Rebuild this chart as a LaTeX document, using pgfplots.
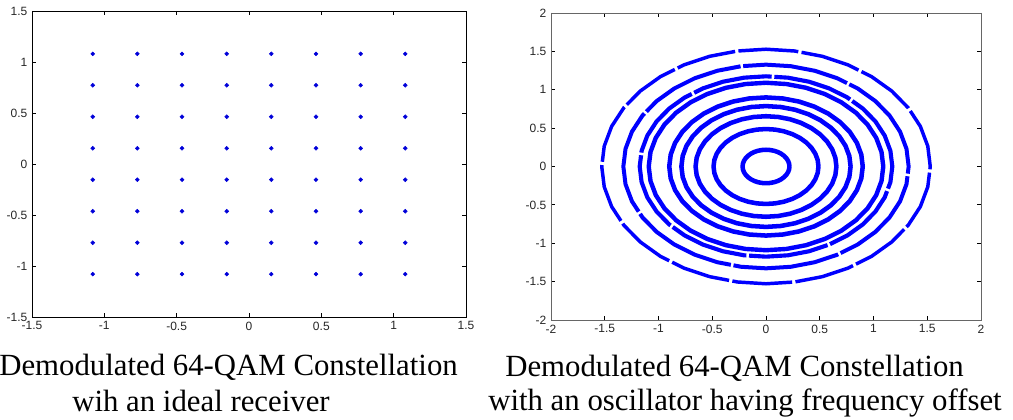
\documentclass[border=0pt]{standalone}
\usepackage{fontspec}
\setmainfont{Liberation Serif}
\newfontfamily\ticksf{Liberation Sans}
\usepackage{pgfplots}
\usepackage{pgfplotstable}
\pgfplotsset{compat=1.18}

% ring radii (angle in degrees, radius of each ring)
\pgfplotstableread{
a   r1    r2    r3    r4    r5    r6    r7    r8    r9
0   0.218 0.488 0.655 0.787 0.900 1.091 1.175 1.327 1.528
10  0.218 0.488 0.655 0.787 0.900 1.091 1.175 1.327 1.528
20  0.218 0.488 0.655 0.787 0.900 1.091 1.175 1.327 1.528
30  0.218 0.488 0.655 0.787 0.900 1.091 1.175 1.327 1.528
40  0.218 0.488 0.655 0.787 0.900 1.091 1.175 1.327 1.528
50  0.218 0.488 0.655 0.787 0.900 1.091 1.175 1.327 1.528
60  0.218 0.488 0.655 0.787 0.900 1.091 1.175 1.327 1.528
70  0.218 0.488 0.655 0.787 0.900 1.091 1.175 1.327 1.528
80  0.218 0.488 0.655 0.787 0.900 1.091 1.175 1.327 1.528
90  0.218 0.488 0.655 0.787 0.900 1.091 1.175 1.327 1.528
100 0.218 0.488 0.655 0.787 0.900 1.091 1.175 1.327 1.528
110 0.218 0.488 0.655 0.787 0.900 1.091 1.175 1.327 1.528
120 0.218 0.488 0.655 0.787 0.900 1.091 1.175 1.327 1.528
130 0.218 0.488 0.655 0.787 0.900 1.091 1.175 1.327 1.528
140 0.218 0.488 0.655 0.787 0.900 1.091 1.175 1.327 1.528
150 0.218 0.488 0.655 0.787 0.900 1.091 1.175 1.327 1.528
160 0.218 0.488 0.655 0.787 0.900 1.091 1.175 1.327 1.528
170 0.218 0.488 0.655 0.787 0.900 1.091 1.175 1.327 1.528
180 0.218 0.488 0.655 0.787 0.900 1.091 1.175 1.327 1.528
190 0.218 0.488 0.655 0.787 0.900 1.091 1.175 1.327 1.528
200 0.218 0.488 0.655 0.787 0.900 1.091 1.175 1.327 1.528
210 0.218 0.488 0.655 0.787 0.900 1.091 1.175 1.327 1.528
220 0.218 0.488 0.655 0.787 0.900 1.091 1.175 1.327 1.528
230 0.218 0.488 0.655 0.787 0.900 1.091 1.175 1.327 1.528
240 0.218 0.488 0.655 0.787 0.900 1.091 1.175 1.327 1.528
250 0.218 0.488 0.655 0.787 0.900 1.091 1.175 1.327 1.528
260 0.218 0.488 0.655 0.787 0.900 1.091 1.175 1.327 1.528
270 0.218 0.488 0.655 0.787 0.900 1.091 1.175 1.327 1.528
280 0.218 0.488 0.655 0.787 0.900 1.091 1.175 1.327 1.528
290 0.218 0.488 0.655 0.787 0.900 1.091 1.175 1.327 1.528
300 0.218 0.488 0.655 0.787 0.900 1.091 1.175 1.327 1.528
310 0.218 0.488 0.655 0.787 0.900 1.091 1.175 1.327 1.528
320 0.218 0.488 0.655 0.787 0.900 1.091 1.175 1.327 1.528
330 0.218 0.488 0.655 0.787 0.900 1.091 1.175 1.327 1.528
340 0.218 0.488 0.655 0.787 0.900 1.091 1.175 1.327 1.528
350 0.218 0.488 0.655 0.787 0.900 1.091 1.175 1.327 1.528
360 0.218 0.488 0.655 0.787 0.900 1.091 1.175 1.327 1.528
}\ringdata

\begin{document}
\begin{tikzpicture}
\useasboundingbox (0pt,0pt) rectangle (759.75pt,315pt);
\pgfplotsset{mystyle/.style={
  scale only axis,
  tick align=inside, major tick length=3pt,
  /pgf/number format/assume math mode=true,
  tick label style={font=\ticksf\fontsize{9}{10}\selectfont, text=black!85},
  axis line style={line width=0.6pt},
  major tick style={line width=0.6pt, black},
}}
\begin{axis}[mystyle, anchor=south west, at={(24pt,77.25pt)}, width=325.5pt, height=229.5pt,
  xmin=-1.5, xmax=1.5, ymin=-1.5, ymax=1.5,
  xtick={-1.5,-1,-0.5,0,0.5,1,1.5}, ytick={-1.5,-1,-0.5,0,0.5,1,1.5}]
\addplot[only marks, mark=*, mark size=1.45pt, blue!85!black] coordinates {
(-1.080,1.080) (-0.772,1.080) (-0.463,1.080) (-0.154,1.080) (0.154,1.080) (0.463,1.080) (0.772,1.080) (1.080,1.080)
(-1.080,0.772) (-0.772,0.772) (-0.463,0.772) (-0.154,0.772) (0.154,0.772) (0.463,0.772) (0.772,0.772) (1.080,0.772)
(-1.080,0.463) (-0.772,0.463) (-0.463,0.463) (-0.154,0.463) (0.154,0.463) (0.463,0.463) (0.772,0.463) (1.080,0.463)
(-1.080,0.154) (-0.772,0.154) (-0.463,0.154) (-0.154,0.154) (0.154,0.154) (0.463,0.154) (0.772,0.154) (1.080,0.154)
(-1.080,-0.154) (-0.772,-0.154) (-0.463,-0.154) (-0.154,-0.154) (0.154,-0.154) (0.463,-0.154) (0.772,-0.154) (1.080,-0.154)
(-1.080,-0.463) (-0.772,-0.463) (-0.463,-0.463) (-0.154,-0.463) (0.154,-0.463) (0.463,-0.463) (0.772,-0.463) (1.080,-0.463)
(-1.080,-0.772) (-0.772,-0.772) (-0.463,-0.772) (-0.154,-0.772) (0.154,-0.772) (0.463,-0.772) (0.772,-0.772) (1.080,-0.772)
(-1.080,-1.080) (-0.772,-1.080) (-0.463,-1.080) (-0.154,-1.080) (0.154,-1.080) (0.463,-1.080) (0.772,-1.080) (1.080,-1.080)
};
\end{axis}
\begin{axis}[mystyle, anchor=south west, at={(413.25pt,75pt)}, width=322.5pt, height=230.25pt,
  xmin=-2, xmax=2, ymin=-2, ymax=2,
  axis line style={black!60},
  xtick={-2,-1.5,-1,-0.5,0,0.5,1,1.5,2}, ytick={-2,-1.5,-1,-0.5,0,0.5,1,1.5,2}]
\addplot[blue, line width=3.4pt, data cs=polar] table[x=a, y=r1] {\ringdata};
\addplot[blue, line width=3.4pt, data cs=polar] table[x=a, y=r2] {\ringdata};
\addplot[blue, line width=3.4pt, data cs=polar] table[x=a, y=r3] {\ringdata};
\addplot[blue, line width=3.4pt, data cs=polar] table[x=a, y=r4] {\ringdata};
\addplot[blue, line width=3.4pt, data cs=polar] table[x=a, y=r5] {\ringdata};
\addplot[blue, line width=3.3pt, data cs=polar] table[x=a, y=r6] {\ringdata};
\addplot[blue, line width=3.1pt, data cs=polar, dash pattern=on 60pt off 2pt] table[x=a, y=r7] {\ringdata};
\addplot[blue, line width=3.0pt, data cs=polar, dash pattern=on 80pt off 2pt] table[x=a, y=r8] {\ringdata};
\addplot[blue, line width=2.6pt, data cs=polar, dash pattern=on 45pt off 2.5pt] table[x=a, y=r9] {\ringdata};
\end{axis}
\begin{scope}[x=0.75pt, y=0.75pt, every node/.style={inner sep=0pt, anchor=base west, font=\fontsize{23.1}{27}\selectfont}]
\node at (-1,44) {Demodulated 64-QAM Constellation};
\node at (72,8) {wih an ideal receiver};
\node at (505,43) {Demodulated 64-QAM Constellation};
\node at (488,9) {with an oscillator having frequency offset};
\end{scope}
\end{tikzpicture}
\end{document}
